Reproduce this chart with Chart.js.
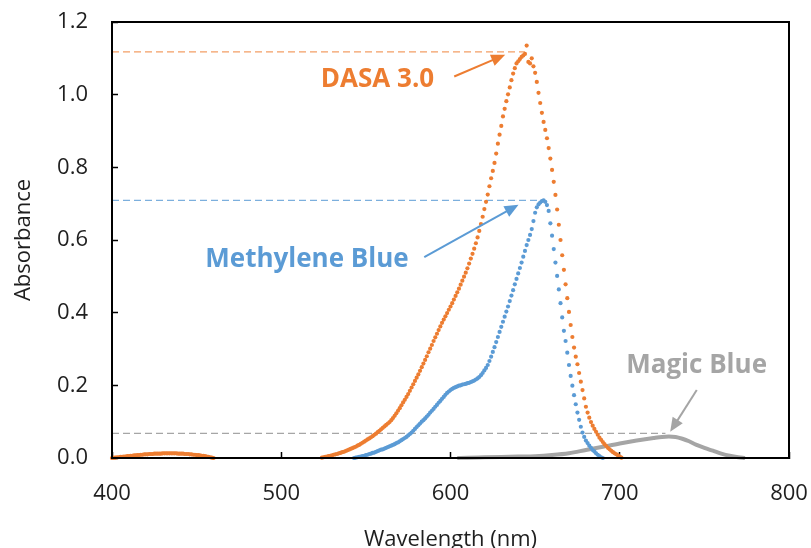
<!DOCTYPE html>
<html>
<head>
<meta charset="utf-8">
<script src="https://cdn.jsdelivr.net/npm/chart.js@4.4.0/dist/chart.umd.min.js"></script>
<style>
  html, body { margin: 0; padding: 0; background: #fff; }
  #wrap { width: 811px; height: 548px; }
</style>
</head>
<body>
<div id="wrap"><canvas id="spectra" width="811" height="548"></canvas></div>
<script>
const xTicks = [400, 500, 600, 700, 800];
const yTicks = [0, 0.2, 0.4, 0.6, 0.8, 1.0, 1.2];

// DASA 3.0, one reading per nm
const dasaLowStart = 400;
const dasaLow = [
  0.000, 0.001, 0.001, 0.002, 0.002, 0.003, 0.003, 0.004, 0.004, 0.005,
  0.005, 0.006, 0.006, 0.007, 0.007, 0.008, 0.008, 0.009, 0.009, 0.010,
  0.010, 0.010, 0.011, 0.011, 0.011, 0.012, 0.012, 0.012, 0.012, 0.012,
  0.013, 0.013, 0.013, 0.013, 0.013, 0.013, 0.013, 0.013, 0.013, 0.012,
  0.012, 0.012, 0.012, 0.011, 0.011, 0.011, 0.010, 0.010, 0.009, 0.009,
  0.008, 0.008, 0.007, 0.006, 0.006, 0.005, 0.004, 0.003, 0.002, 0.001,
  0.000
];
const dasaMainStart = 524;
const dasaMain = [
  0.001, 0.002, 0.003, 0.004, 0.005, 0.006, 0.007, 0.009, 0.010, 0.011,
  0.013, 0.014, 0.016, 0.017, 0.019, 0.021, 0.023, 0.025, 0.027, 0.029,
  0.031, 0.034, 0.036, 0.039, 0.042, 0.045, 0.048, 0.051, 0.054, 0.057,
  0.060, 0.064, 0.067, 0.071, 0.075, 0.079, 0.083, 0.087, 0.091, 0.095,
  0.099, 0.104, 0.110, 0.116, 0.123, 0.130, 0.137, 0.145, 0.153, 0.160,
  0.168, 0.176, 0.185, 0.194, 0.203, 0.212, 0.221, 0.230, 0.240, 0.250,
  0.260, 0.270, 0.280, 0.291, 0.301, 0.311, 0.322, 0.332, 0.342, 0.352,
  0.362, 0.372, 0.381, 0.390, 0.399, 0.408, 0.417, 0.426, 0.436, 0.446,
  0.456, 0.466, 0.477, 0.488, 0.499, 0.510, 0.522, 0.535, 0.549, 0.562,
  0.576, 0.591, 0.607, 0.625, 0.644, 0.664, 0.685, 0.705, 0.725, 0.748,
  0.770, 0.790, 0.812, 0.838, 0.865, 0.890, 0.914, 0.940, 0.961, 0.982,
  1.001, 1.020, 1.040, 1.058, 1.073, 1.086, 1.092, 1.098, 1.104, 1.108,
  1.112, 1.135, 1.090, 1.086, 1.100, 1.078, 1.060, 1.035, 1.005, 0.977,
  0.950, 0.925, 0.903, 0.880, 0.853, 0.824, 0.793, 0.760, 0.724, 0.684,
  0.642, 0.600, 0.558, 0.518, 0.478, 0.440, 0.402, 0.366, 0.333, 0.304,
  0.279, 0.258, 0.234, 0.210, 0.187, 0.164, 0.141, 0.125, 0.111, 0.099,
  0.089, 0.080, 0.072, 0.064, 0.056, 0.050, 0.044, 0.038, 0.033, 0.028,
  0.024, 0.020, 0.016, 0.013, 0.010, 0.007, 0.004, 0.001
];

// Methylene Blue, one reading per nm
const mbStart = 543;
const methyleneBlue = [
  0.000, 0.001, 0.002, 0.003, 0.004, 0.005, 0.006, 0.008, 0.009, 0.011,
  0.012, 0.014, 0.015, 0.017, 0.019, 0.021, 0.023, 0.024, 0.026, 0.028,
  0.030, 0.032, 0.034, 0.036, 0.038, 0.041, 0.043, 0.046, 0.049, 0.052,
  0.055, 0.058, 0.062, 0.066, 0.070, 0.075, 0.080, 0.085, 0.090, 0.095,
  0.100, 0.104, 0.109, 0.114, 0.119, 0.125, 0.130, 0.135, 0.141, 0.146,
  0.152, 0.157, 0.163, 0.168, 0.174, 0.179, 0.183, 0.187, 0.190, 0.193,
  0.195, 0.197, 0.199, 0.200, 0.202, 0.203, 0.204, 0.206, 0.207, 0.209,
  0.211, 0.213, 0.216, 0.219, 0.223, 0.228, 0.234, 0.241, 0.248, 0.256,
  0.267, 0.279, 0.292, 0.305, 0.319, 0.333, 0.347, 0.361, 0.375, 0.389,
  0.403, 0.417, 0.432, 0.447, 0.462, 0.478, 0.493, 0.508, 0.523, 0.538,
  0.554, 0.570, 0.586, 0.600, 0.614, 0.630, 0.652, 0.675, 0.690, 0.698,
  0.703, 0.707, 0.709, 0.705, 0.696, 0.680, 0.646, 0.612, 0.575, 0.538,
  0.501, 0.464, 0.426, 0.387, 0.350, 0.322, 0.290, 0.256, 0.226, 0.199,
  0.173, 0.148, 0.125, 0.105, 0.086, 0.070, 0.058, 0.048, 0.041, 0.034,
  0.028, 0.022, 0.018, 0.013, 0.009, 0.005, 0.002, 0.000
];

// Magic Blue
const magicNm = [604, 610, 620, 630, 640, 650, 660, 670, 680, 690, 700, 710, 720, 725, 729, 733, 737, 741, 745, 750, 755, 760, 765, 770, 774];
const magicAbs = [0.000, 0.001, 0.002, 0.003, 0.004, 0.005, 0.008, 0.013, 0.022, 0.031, 0.040, 0.048, 0.055, 0.058, 0.059, 0.058, 0.053, 0.046, 0.037, 0.028, 0.020, 0.012, 0.006, 0.002, 0.000];

// dashed peak markers: absorbance level and where each stops
const guideLevels = [1.118, 0.709, 0.068];
const guideEnds = [644, 654.5, 727];

const ORANGE = '#ED7D31';
const BLUE = '#5B9BD5';
const GREY = '#A5A5A5';

const toPoints = (start, values) => values.map((v, i) => ({ x: start + i, y: v }));

const dots = (data, color) => ({
  data,
  showLine: false,
  pointRadius: 2.1,
  pointBorderWidth: 0,
  pointBackgroundColor: color,
  clip: false
});

const guide = (i, color) => ({
  data: [{ x: 400, y: guideLevels[i] }, { x: guideEnds[i], y: guideLevels[i] }],
  showLine: true,
  borderColor: color,
  borderWidth: 1.3,
  borderDash: [7, 4],
  pointRadius: 0
});

// label text, where it sits, and the arrow pointing at the peak (data units)
const callouts = [
  { text: 'DASA 3.0', color: ORANGE, at: [523.4, 1.022], from: [602.2, 1.050], to: [632.3, 1.110] },
  { text: 'Methylene Blue', color: BLUE, at: [455.1, 0.527], from: [584.5, 0.553], to: [640.2, 0.697] },
  { text: 'Magic Blue', color: GREY, at: [703.8, 0.233], from: [745.5, 0.187], to: [729.8, 0.072] }
];

const frameAndCallouts = {
  id: 'frameAndCallouts',
  afterDatasetsDraw(chart) {
    const { ctx, chartArea: a, scales: { x, y } } = chart;
    ctx.save();
    ctx.strokeStyle = '#000';
    ctx.lineWidth = 2;
    ctx.strokeRect(a.left, a.top, a.right - a.left, a.bottom - a.top);

    callouts.forEach(c => {
      const x1 = x.getPixelForValue(c.from[0]), y1 = y.getPixelForValue(c.from[1]);
      const x2 = x.getPixelForValue(c.to[0]), y2 = y.getPixelForValue(c.to[1]);
      const ang = Math.atan2(y2 - y1, x2 - x1);
      const head = 14, half = 6;
      ctx.strokeStyle = c.color;
      ctx.fillStyle = c.color;
      ctx.lineWidth = 2;
      ctx.beginPath();
      ctx.moveTo(x1, y1);
      ctx.lineTo(x2 - Math.cos(ang) * head * 0.8, y2 - Math.sin(ang) * head * 0.8);
      ctx.stroke();
      ctx.beginPath();
      ctx.moveTo(x2, y2);
      ctx.lineTo(x2 - Math.cos(ang) * head - Math.sin(ang) * half, y2 - Math.sin(ang) * head + Math.cos(ang) * half);
      ctx.lineTo(x2 - Math.cos(ang) * head + Math.sin(ang) * half, y2 - Math.sin(ang) * head - Math.cos(ang) * half);
      ctx.closePath();
      ctx.fill();

      ctx.font = 'bold 26px "Open Sans"';
      ctx.textAlign = 'left';
      ctx.textBaseline = 'alphabetic';
      ctx.fillText(c.text, x.getPixelForValue(c.at[0]), y.getPixelForValue(c.at[1]));
    });
    ctx.restore();
  }
};

new Chart(document.getElementById('spectra'), {
  type: 'scatter',
  data: {
    datasets: [
      dots(toPoints(mbStart, methyleneBlue), BLUE),
      dots(toPoints(dasaMainStart, dasaMain), ORANGE),
      dots(toPoints(dasaLowStart, dasaLow), ORANGE),
      {
        data: magicNm.map((nm, i) => ({ x: nm, y: magicAbs[i] })),
        showLine: true,
        borderColor: GREY,
        borderWidth: 4,
        cubicInterpolationMode: 'monotone',
        pointRadius: 0,
        clip: false
      },
      guide(0, 'rgba(237,125,49,0.75)'),
      guide(1, 'rgba(91,155,213,0.8)'),
      guide(2, 'rgba(150,150,150,0.85)')
    ]
  },
  options: {
    responsive: false,
    animation: false,
    layout: { padding: { left: 0, right: 22, top: 22, bottom: 0 } },
    plugins: { legend: { display: false }, tooltip: { enabled: false } },
    scales: {
      x: {
        type: 'linear',
        min: xTicks[0],
        max: xTicks[xTicks.length - 1],
        afterFit: s => { s.height = 90; s.paddingLeft = 0; s.paddingRight = 0; },
        afterBuildTicks: s => { s.ticks = xTicks.map(v => ({ value: v })); },
        grid: { drawOnChartArea: false, drawTicks: true, tickLength: -6, tickWidth: 1.5, tickColor: '#000' },
        border: { display: true, color: '#000', width: 2 },
        ticks: { padding: 29, color: '#1f1f1f', font: { family: '"Open Sans"', size: 22 } },
        title: { display: true, text: 'Wavelength (nm)', color: '#1f1f1f', font: { family: '"Open Sans"', size: 22 }, padding: { top: 0, bottom: -5 } }
      },
      y: {
        type: 'linear',
        min: yTicks[0],
        max: yTicks[yTicks.length - 1],
        afterFit: s => { s.width = 112; s.paddingTop = 0; s.paddingBottom = 0; },
        afterBuildTicks: s => { s.ticks = yTicks.map(v => ({ value: v })); },
        grid: { drawOnChartArea: false, drawTicks: true, tickLength: -6, tickWidth: 1.5, tickColor: '#000' },
        border: { display: true, color: '#000', width: 2 },
        ticks: { padding: 30, color: '#1f1f1f', font: { family: '"Open Sans"', size: 22 }, callback: v => v.toFixed(1) },
        title: { display: true, text: 'Absorbance', color: '#1f1f1f', font: { family: '"Open Sans"', size: 22 }, padding: { top: 11, bottom: 0 } }
      }
    }
  },
  plugins: [frameAndCallouts]
});
</script>
</body>
</html>
